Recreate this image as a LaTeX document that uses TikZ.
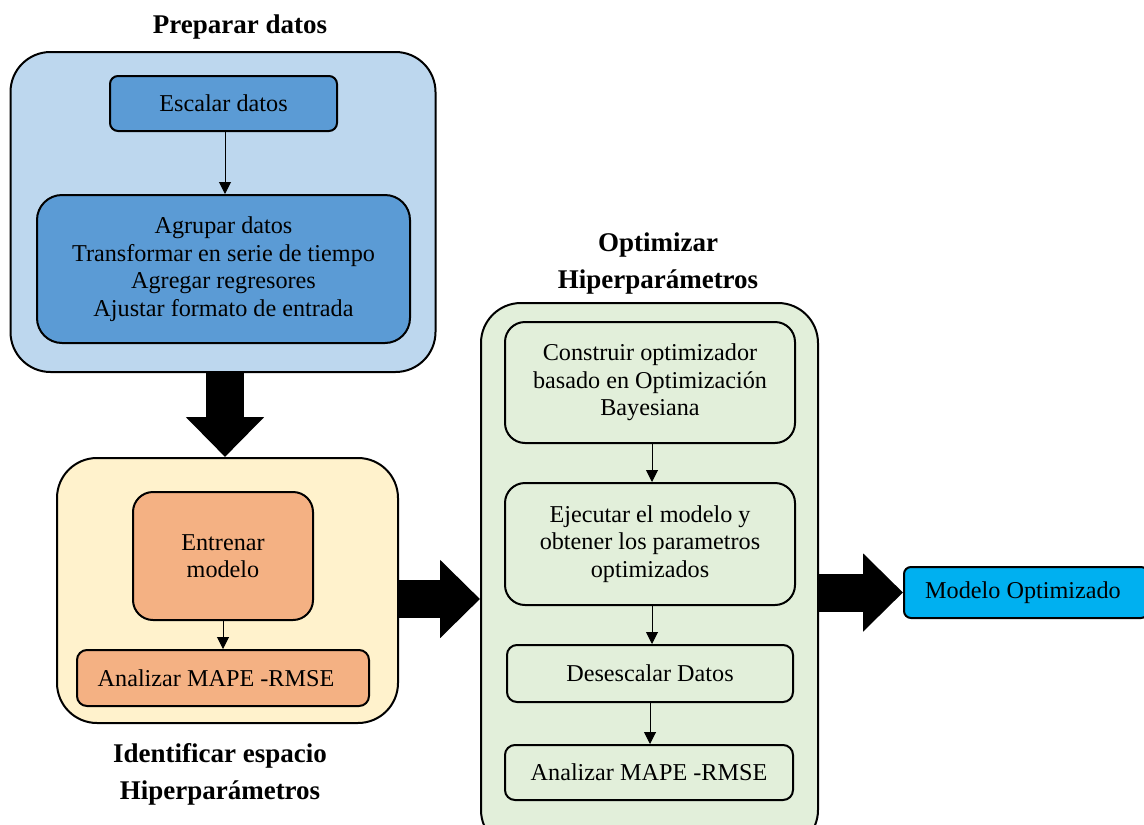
\documentclass[tikz,border=0pt]{standalone}
\usepackage{fontspec}
\setmainfont{Liberation Serif}
\usetikzlibrary{arrows.meta}
\definecolor{prepOuter}{HTML}{BDD7EE}
\definecolor{prepInner}{HTML}{5B9BD5}
\definecolor{idenOuter}{HTML}{FFF2CC}
\definecolor{idenInner}{HTML}{F4B183}
\definecolor{optFill}{HTML}{E2EFDA}
\definecolor{modFill}{HTML}{00B0F0}
\tikzset{
  box/.style={draw=black, line width=2pt, inner sep=0pt, align=center,
    font=\fontsize{24.2}{27.5}\selectfont},
  title/.style={font=\fontsize{27}{37}\selectfont\bfseries, align=center},
  thin/.style={draw=black, line width=1pt, -{Triangle[length=12pt,width=12pt]}},
  block/.style={draw=black, line width=38pt, -{Triangle[length=40pt,width=76pt]}},
}
\begin{document}
\begin{tikzpicture}[x=1pt,y=-1pt]
\useasboundingbox (0,0) rectangle (1144,825);
\clip (0,0) rectangle (1144,825);

% Stage 1: data preparation
\node[box, fill=prepOuter, rounded corners=40pt, minimum width=425pt, minimum height=320pt] (prep) at (223,212) {};
\node[title] (tprep) at (240,27) {Preparar datos};
\node[box, fill=prepInner, rounded corners=8pt, minimum width=227pt, minimum height=55pt] (esc) at (223.5,103.5) {Escalar datos};
\node[box, fill=prepInner, rounded corners=25pt, minimum width=373pt, minimum height=148pt] (agr) at (223.5,269)
  {Agrupar datos\\Transformar en serie de tiempo\\Agregar regresores\\Ajustar formato de entrada};
\draw[thin] (esc.south -| 225,0) -- (agr.north -| 225,0);

% Stage 2: hyperparameter space
\node[box, fill=idenOuter, rounded corners=40pt, minimum width=341pt, minimum height=265pt] (iden) at (227.5,590.5) {};
\node[box, fill=idenInner, rounded corners=20pt, minimum width=180pt, minimum height=128pt] (ent) at (223,556) {Entrenar\\modelo};
\node[box, fill=idenInner, rounded corners=10pt, minimum width=292pt, minimum height=56pt] (ana1) at (223,678) {Analizar MAPE -RMSE\hspace*{14pt}};
\draw[thin] (ent.south) -- (ent.south |- ana1.north);
\node[title] (tiden) at (220,774) {Identificar espacio\\Hiperparámetros};

% Stage 3: optimisation
\node[box, fill=optFill, rounded corners=40pt, minimum width=337pt, minimum height=547pt] (opt) at (649.5,576.5) {};
\node[title] (topt) at (658,264) {Optimizar\\Hiperparámetros};
\node[box, fill=optFill, rounded corners=20pt, minimum width=290pt, minimum height=121pt] (cons) at (650,382.5)
  {Construir optimizador\\basado en Optimización\\Bayesiana};
\node[box, fill=optFill, rounded corners=20pt, minimum width=290pt, minimum height=122pt] (eje) at (650,544)
  {Ejecutar el modelo y\\obtener los parametros\\optimizados};
\node[box, fill=optFill, rounded corners=10pt, minimum width=286pt, minimum height=57pt] (des) at (650,673.5) {Desescalar Datos};
\node[box, fill=optFill, rounded corners=10pt, minimum width=288pt, minimum height=55pt] (ana2) at (649,772.5) {Analizar MAPE -RMSE};
\draw[thin] (cons.south -| 652,0) -- (eje.north -| 652,0);
\draw[thin] (eje.south -| 652,0) -- (des.north -| 652,0);
\draw[thin] (des.south -| 650,0) -- (ana2.north -| 650,0);

% Result
\node[box, fill=modFill, rounded corners=7pt, minimum width=244pt, minimum height=51pt] (mod) at (1026,592.5) {\hspace*{-2pt}Modelo Optimizado\hspace*{4pt}};

% Block arrows between stages
\coordinate (row1) at (0,599);
\draw[block] (prep.south -| 225,0) -- (iden.north -| 225,0);
\draw[block] (iden.east |- row1) -- (opt.west |- row1);
\draw[block] (opt.east |- mod.west) -- (mod.west);
\end{tikzpicture}
\end{document}
